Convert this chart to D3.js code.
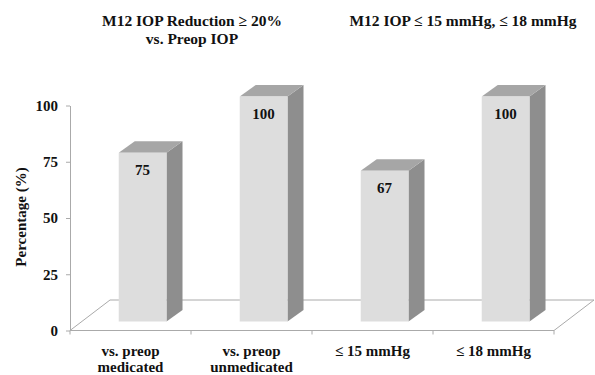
<!DOCTYPE html>
<html>
<head>
<meta charset="utf-8">
<script src="https://cdn.jsdelivr.net/npm/d3@7/dist/d3.min.js"></script>
<style>
  body { margin: 0; background: #fff; }
  text { font-family: "Liberation Serif", "Times New Roman", serif; font-weight: bold; fill: #111; }
</style>
</head>
<body>
<script>
  // data
  const categories = ['vs. preop<br>medicated', 'vs. preop<br>unmedicated', '≤ 15 mmHg', '≤ 18 mmHg'];
  const values = [75, 100, 67, 100];
  const yTicks = [0, 25, 50, 75, 100];
  const titles = [
    {lines: ['M12 IOP Reduction ≥ 20%', 'vs. Preop IOP'], cx: 192},
    {lines: ['M12 IOP ≤ 15 mmHg, ≤ 18 mmHg'], cx: 463}
  ];

  const W = 595, H = 375;
  const plotLeft = 70, plotRight = 554, plotTop = 105.5, plotBottom = 330.5;
  const floorDepth = {dx: 40, dy: -30.5};   // floor parallelogram depth
  const barShift = {dx: 10, dy: -9};        // bar front sits a bit back on the floor
  const barDepth = {dx: 16, dy: -11.5};     // depth of each bar

  const colors = {front: '#dddddd', side: '#8e8e8e', top: '#a6a6a6', axis: '#aaaaaa'};

  const data = categories.map((c, i) => ({name: c, value: values[i]}));

  const x = d3.scaleBand()
    .domain(categories)
    .range([plotLeft, plotRight])
    .padding(0);

  const y = d3.scaleLinear()
    .domain([0, 100])
    .range([plotBottom, plotTop]);

  const svg = d3.select('body')
    .append('svg')
      .attr('width', W)
      .attr('height', H);

  // floor
  const fl = [
    [plotLeft, plotBottom], [plotRight, plotBottom],
    [plotRight + floorDepth.dx, plotBottom + floorDepth.dy],
    [plotLeft + floorDepth.dx, plotBottom + floorDepth.dy]
  ];
  svg.append('path')
    .attr('d', 'M' + fl.join('L') + 'Z')
    .attr('fill', '#fff')
    .attr('stroke', colors.axis)
    .attr('stroke-width', 1);

  // y axis
  const yAxis = d3.axisLeft(y)
    .tickValues(yTicks)
    .tickSizeInner(4)
    .tickSizeOuter(0)
    .tickPadding(8);
  const yg = svg.append('g')
    .attr('transform', `translate(${plotLeft}, 0)`)
    .call(yAxis);
  yg.select('.domain').attr('stroke', colors.axis);
  yg.selectAll('.tick line').attr('stroke', colors.axis);
  yg.selectAll('text')
    .style('font-size', '15px')
    .style('font-family', '"Liberation Serif", serif')
    .style('font-weight', 'bold')
    .attr('fill', '#111');

  // category ticks at band edges
  const edges = categories.map(c => x(c)).concat([plotRight]);
  svg.selectAll('.xtick')
    .data(edges)
    .enter().append('line')
      .attr('class', 'xtick')
      .attr('x1', d => d).attr('x2', d => d)
      .attr('y1', plotBottom).attr('y2', plotBottom + 4)
      .attr('stroke', colors.axis);

  // category labels
  const xAxis = d3.axisBottom(x).tickSize(0).tickPadding(0);
  const xg = svg.append('g')
    .attr('transform', `translate(0, ${plotBottom})`)
    .call(xAxis);
  xg.select('.domain').remove();
  xg.selectAll('text')
    .style('font-size', '15px')
    .style('font-family', '"Liberation Serif", serif')
    .style('font-weight', 'bold')
    .attr('fill', '#111')
    .attr('y', 0)
    .attr('dy', 0)
    .each(insertLinebreaks);

  function insertLinebreaks (d) {
    const el = d3.select(this);
    const words = d.split('<br>');
    el.text('');
    for (let i = 0; i < words.length; i++) {
      el.append('tspan')
        .attr('x', 0)
        .attr('y', 25 + i * 16.5)
        .text(words[i]);
    }
  }

  // bars
  const bw = x.bandwidth();
  const bx = d => x(d.name) + bw * 0.32 + barShift.dx;
  const bwid = bw * 0.395;
  const by0 = y(0) + barShift.dy;
  const byt = d => y(d.value) + barShift.dy;

  const bars = svg.selectAll('.bar')
    .data(data)
    .enter().append('g')
      .attr('class', 'bar');

  // side face
  bars.append('path')
    .attr('fill', colors.side)
    .attr('d', d => {
      const x1 = bx(d) + bwid, yt = byt(d);
      return `M${x1},${yt}L${x1 + barDepth.dx},${yt + barDepth.dy}L${x1 + barDepth.dx},${by0 + barDepth.dy}L${x1},${by0}Z`;
    });
  // top face
  bars.append('path')
    .attr('fill', colors.top)
    .attr('d', d => {
      const x0 = bx(d), x1 = x0 + bwid, yt = byt(d);
      return `M${x0},${yt}L${x1},${yt}L${x1 + barDepth.dx},${yt + barDepth.dy}L${x0 + barDepth.dx},${yt + barDepth.dy}Z`;
    });
  // front face
  bars.append('rect')
    .attr('fill', colors.front)
    .attr('x', bx)
    .attr('width', bwid)
    .attr('y', byt)
    .attr('height', d => by0 - byt(d));

  // value labels
  bars.append('text')
    .attr('x', d => bx(d) + bwid / 2)
    .attr('y', d => byt(d) + 22)
    .attr('text-anchor', 'middle')
    .style('font-size', '15px')
    .text(d => d.value);

  // y axis title
  svg.append('text')
    .attr('transform', 'rotate(-90)')
    .attr('x', -217)
    .attr('y', 26)
    .attr('text-anchor', 'middle')
    .style('font-size', '15px')
    .text('Percentage (%)');

  // panel titles
  titles.forEach(t => {
    t.lines.forEach((line, i) => {
      svg.append('text')
        .attr('x', t.cx)
        .attr('y', 26 + i * 18)
        .attr('text-anchor', 'middle')
        .style('font-size', '15.5px')
        .text(line);
    });
  });
</script>
</body>
</html>
